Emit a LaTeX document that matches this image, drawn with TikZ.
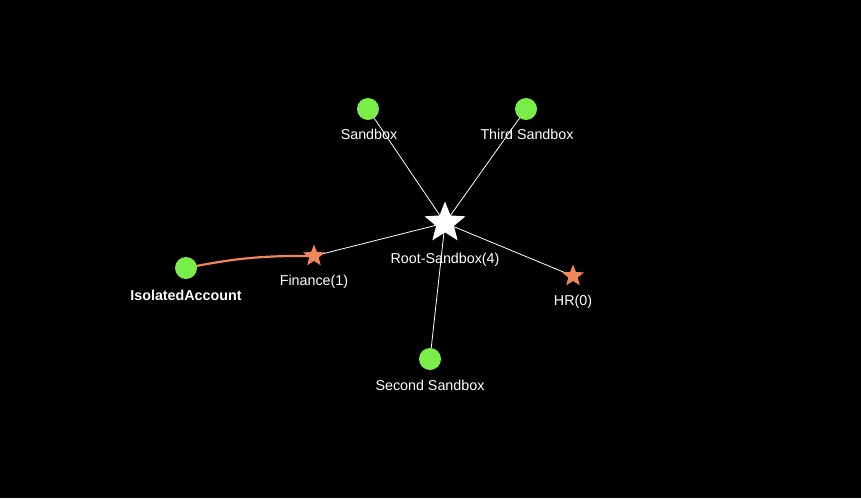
\documentclass[tikz,border=0pt]{standalone}
\usepackage{fontspec}
\setmainfont{Liberation Sans}
\usetikzlibrary{shapes.geometric}
\definecolor{leaf}{RGB}{122,238,72}
\definecolor{coral}{RGB}{240,134,92}
\begin{document}
\begin{tikzpicture}[x=1pt,y=-1pt,
  acct/.style={circle,fill=leaf,inner sep=0pt,minimum size=22pt},
  ostar/.style={star,star points=5,star point ratio=2.3,fill=coral,inner sep=0pt,minimum size=23pt},
  rstar/.style={star,star points=5,star point ratio=2.3,fill=white,inner sep=0pt,minimum size=43pt},
  lbl/.style={text=white,font=\fontsize{14.3}{16}\selectfont,inner sep=0pt},
  edge/.style={draw=white,line width=0.8pt},
  link/.style={draw=coral,line width=2.2pt}]
\fill[black] (0,0) rectangle (861,498);
\useasboundingbox (0,0) rectangle (861,498);
\coordinate (rc) at (445,223);
\coordinate (sbc) at (368,109);
\coordinate (tsbc) at (526,109);
\coordinate (ssbc) at (430,359);
\coordinate (isoc) at (186,268);
\coordinate (fc) at (314,256);
\coordinate (hc) at (573,276);
\draw[edge] (rc) -- (sbc);
\draw[edge] (rc) -- (tsbc);
\draw[edge] (rc) -- (ssbc);
\draw[edge] (rc) -- (fc);
\draw[edge] (rc) -- (hc);
\draw[link] (isoc) to[bend left=6] (fc);
\node[acct] (sb) at (sbc) {};
\node[acct] (tsb) at (tsbc) {};
\node[acct] (ssb) at (ssbc) {};
\node[acct] (iso) at (isoc) {};
\node[ostar] (fin) at (fc) {};
\node[ostar] (hr) at (hc) {};
\node[rstar] (root) at (rc) {};
\node[lbl] (sbl) at (369,134.5) {Sandbox};
\node[lbl] (tsbl) at (527,134.5) {Third Sandbox};
\node[lbl] (rootl) at (445,259.5) {Root-Sandbox(4)};
\node[lbl] (finl) at (314,281.5) {Finance(1)};
\node[lbl] (hrl) at (573,301.5) {HR(0)};
\node[lbl] (ssbl) at (430,385.5) {Second Sandbox};
\node[lbl,font=\fontsize{14.3}{16}\selectfont\bfseries] (isol) at (186,295) {IsolatedAccount};
\end{tikzpicture}
\end{document}
